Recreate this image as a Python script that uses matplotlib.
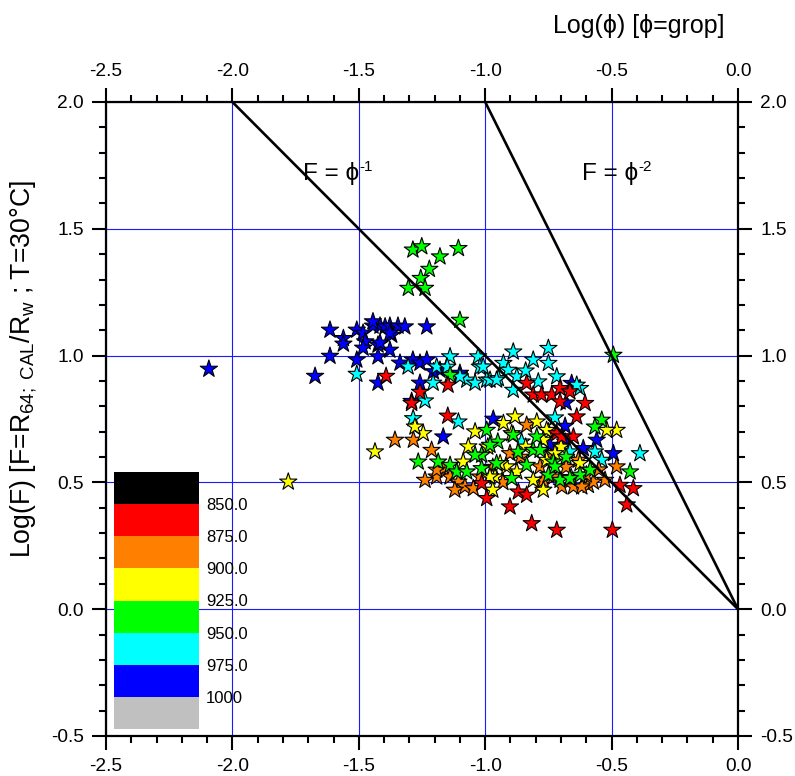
import numpy as np
import matplotlib
matplotlib.use("Agg")
import matplotlib.pyplot as plt
from matplotlib.colors import ListedColormap, BoundaryNorm
from matplotlib.cm import ScalarMappable
from matplotlib.ticker import MultipleLocator, FormatStrFormatter

plt.rcParams['font.family'] = ['Liberation Sans', 'DejaVu Sans']
plt.rcParams['axes.unicode_minus'] = False
plt.rcParams['mathtext.fontset'] = 'custom'
plt.rcParams['mathtext.rm'] = 'Liberation Sans'
plt.rcParams['mathtext.it'] = 'Liberation Sans:italic'

# ---------------- data ----------------
red_x = [-1.392, -1.258, -1.291, -1.147, -1.148, -0.836, -0.810, -0.777, -0.737, -0.704,
         -0.665, -0.605, -0.638, -0.704, -0.651, -1.014, -0.994, -0.902, -0.869, -0.836,
         -0.816, -0.717, -0.497, -0.467, -0.414, -0.440, -0.717, -0.697]
red_y = [0.919, 0.856, 0.812, 0.884, 0.762, 0.891, 0.845, 0.845, 0.845, 0.871,
         0.858, 0.812, 0.759, 0.818, 0.680, 0.496, 0.437, 0.404, 0.463, 0.450,
         0.338, 0.312, 0.312, 0.489, 0.476, 0.412, 0.693, 0.680]

orange_x = [-1.357, -1.284, -1.212, -1.238, -1.166, -1.139, -1.106, -1.080, -1.047, -0.902,
            -0.836, -0.783, -0.783, -0.697, -0.651, -0.592, -0.526, -0.480, -1.192, -0.730,
            -1.192, -0.618, -0.572, -0.632, -0.770, -1.021, -0.970, -0.860, -0.740, -0.680,
            -0.550, -1.120, -0.930, -0.600]
orange_y = [0.667, 0.667, 0.627, 0.509, 0.555, 0.522, 0.502, 0.483, 0.476, 0.614,
            0.726, 0.562, 0.489, 0.483, 0.483, 0.489, 0.509, 0.562, 0.522, 0.522,
            0.549, 0.483, 0.502, 0.588, 0.509, 0.522, 0.560, 0.600, 0.600, 0.560,
            0.550, 0.470, 0.500, 0.530]

yellow_x = [-1.779, -1.436, -1.245, -1.278, -1.067, -1.040, -0.928, -0.882, -0.796, -0.750,
            -0.961, -0.915, -0.875, -0.770, -1.087, -0.895, -0.480, -0.757, -0.757, -0.810,
            -0.625, -0.519, -0.990, -0.840, -0.700, -0.970, -0.660, -0.724, -0.770, -0.941,
            -0.981]
yellow_y = [0.502, 0.621, 0.693, 0.719, 0.641, 0.700, 0.733, 0.759, 0.739, 0.700,
            0.522, 0.562, 0.542, 0.470, 0.581, 0.693, 0.706, 0.706, 0.588, 0.509,
            0.575, 0.706, 0.640, 0.640, 0.640, 0.470, 0.520, 0.614, 0.667, 0.575,
            0.522]

green_x = [-1.286, -1.251, -1.106, -1.179, -1.221, -1.255, -1.304, -1.238, -1.100, -0.493,
           -1.139, -1.265, -1.186, -1.139, -1.113, -1.073, -1.014, -1.014, -0.994, -0.955,
           -0.895, -0.889, -0.836, -0.810, -0.730, -1.040, -0.539, -0.566, -0.427, -0.704,
           -0.625, -0.585, -0.796, -0.665, -0.750, -0.950, -0.870, -0.680, -0.981, -0.783,
           -0.724]
green_y = [1.417, 1.430, 1.423, 1.390, 1.341, 1.305, 1.266, 1.266, 1.140, 1.002,
           0.923, 0.581, 0.581, 0.568, 0.542, 0.542, 0.608, 0.555, 0.706, 0.575,
           0.516, 0.687, 0.568, 0.627, 0.581, 0.608, 0.746, 0.719, 0.542, 0.509,
           0.529, 0.549, 0.680, 0.516, 0.529, 0.660, 0.620, 0.600, 0.647, 0.627,
           0.562]

cyan_x = [-1.508, -1.139, -1.206, -1.238, -1.285, -1.028, -1.021, -1.073, -1.040, -0.994,
          -1.100, -1.192, -1.305, -0.889, -0.750, -0.810, -0.750, -0.928, -0.909, -0.875,
          -0.790, -0.717, -0.625, -0.638, -0.889, -0.981, -0.948, -1.008, -0.724, -1.106,
          -0.856, -0.665, -0.566, -0.539, -0.388, -0.955, -1.150, -0.840]
cyan_y = [0.927, 0.996, 0.892, 0.822, 0.752, 0.996, 0.955, 0.904, 0.892, 0.904,
          0.917, 0.956, 0.956, 1.015, 1.029, 0.983, 0.970, 0.970, 0.943, 0.917,
          0.897, 0.917, 0.871, 0.884, 0.864, 0.904, 0.910, 0.956, 0.755, 0.739,
          0.660, 0.621, 0.621, 0.588, 0.614, 0.904, 0.955, 0.940]

blue_x = [-2.093, -1.673, -1.614, -1.614, -1.561, -1.561, -1.508, -1.508, -1.483, -1.475,
          -1.483, -1.444, -1.416, -1.396, -1.377, -1.345, -1.318, -1.231, -1.370, -1.424,
          -1.377, -1.424, -1.337, -1.424, -1.286, -1.258, -1.231, -1.258, -1.291, -1.179,
          -1.100, -1.444, -1.377, -1.416, -1.205, -0.968, -1.166, -0.744, -0.658, -0.680,
          -0.684, -0.559, -0.612, -0.493, -0.684]
blue_y = [0.947, 0.919, 1.101, 0.998, 1.068, 1.046, 1.101, 0.983, 1.089, 1.055,
          1.030, 1.117, 1.117, 1.114, 1.117, 1.117, 1.114, 1.114, 1.081, 1.042,
          1.022, 0.996, 0.971, 0.892, 0.983, 0.971, 0.983, 0.892, 0.820, 0.943,
          0.931, 1.134, 1.089, 1.050, 0.937, 0.750, 0.680, 0.647, 0.891, 0.814,
          0.722, 0.667, 0.634, 0.614, 0.660]

# temperature value of each colour class
level_values = {'blue': 987.5, 'cyan': 962.5, 'orange': 887.5,
                'yellow': 912.5, 'green': 937.5, 'red': 862.5}

bounds = [825, 850, 875, 900, 925, 950, 975, 1000, 1025]
cbar_colors = ['#000000', '#ff0000', '#ff8000', '#ffff00', '#00ff00',
               '#00ffff', '#0000ff', '#c0c0c0']
cbar_ticks = [850, 875, 900, 925, 950, 975, 1000]
cbar_ticklabels = ['850.0', '875.0', '900.0', '925.0', '950.0', '975.0', '1000']

ticks = [-2.5, -2.0, -1.5, -1.0, -0.5, 0.0]
yticks = [-0.5, 0.0, 0.5, 1.0, 1.5, 2.0]

line1_x = np.array([-2.0, 0.0])   # F = phi^-1
line2_x = np.array([-1.0, 0.0])   # F = phi^-2

# ---------------- figure ----------------
fig = plt.figure(figsize=(7.95, 7.76), dpi=100)
ax = fig.add_axes([106/795, 1-736/776, 632/795, 634/776])

cmap = ListedColormap(cbar_colors)
norm = BoundaryNorm(bounds, cmap.N)

groups = [('blue', blue_x, blue_y), ('cyan', cyan_x, cyan_y),
          ('orange', orange_x, orange_y), ('yellow', yellow_x, yellow_y),
          ('green', green_x, green_y), ('red', red_x, red_y)]
for name, gx, gy in groups:
    vals = np.full(len(gx), level_values[name])
    ax.scatter(gx, gy, c=vals, cmap=cmap, norm=norm, marker='*', s=170,
               edgecolors='black', linewidths=0.8, zorder=3)

ax.plot(line1_x, -line1_x, color='black', lw=1.9, zorder=4)
ax.plot(line2_x, -2*line2_x, color='black', lw=1.9, zorder=4)

ax.set_xlim(-2.5, 0.0)
ax.set_ylim(-0.5, 2.0)
ax.set_xticks(ticks)
ax.set_yticks(yticks)
ax.xaxis.set_minor_locator(MultipleLocator(0.1))
ax.yaxis.set_minor_locator(MultipleLocator(0.1))
ax.xaxis.set_major_formatter(FormatStrFormatter('%.1f'))
ax.yaxis.set_major_formatter(FormatStrFormatter('%.1f'))
ax.tick_params(which='both', direction='out', top=True, right=True,
               labeltop=True, labelright=True, width=1.5, labelsize=13.8,
               pad=6)
ax.tick_params(which='major', length=10)
ax.tick_params(which='minor', length=5)
for sp in ax.spines.values():
    sp.set_linewidth(1.6)
ax.grid(True, which='major', color='#1a1aff', lw=0.8, zorder=1)
ax.set_axisbelow(True)

for xpos, sup in [(-1.721, "-1"), (-0.618, "-2")]:
    t = ax.text(xpos, 1.693, "F = ϕ", fontsize=17.5,
                ha='left', va='baseline', zorder=5)
    ax.annotate(sup, xy=(1.0, 1.0), xycoords=t, xytext=(0.5, 1.5),
                textcoords='offset points', fontsize=11,
                ha='left', va='top', zorder=5)

fig.text(639/795, 1-33/776, "Log(ϕ) [ϕ=grop]", fontsize=18,
         ha='center', va='baseline')
fig.text(24/795, 1-369/776,
         r"Log(F) [F=R$_{\mathregular{64;\ CAL}}$/R$_{\mathregular{w}}$ ; T=30°C]",
         fontsize=19.2, rotation=90, ha='center', va='center')

# colour scale legend
cax = fig.add_axes([114/795, 1-729/776, 85/795, 257/776])
sm = ScalarMappable(norm=norm, cmap=cmap)
cb = fig.colorbar(sm, cax=cax, boundaries=bounds, ticks=cbar_ticks)
cb.set_ticklabels(cbar_ticklabels)
cb.outline.set_visible(False)
cax.minorticks_off()
cax.invert_yaxis()
cax.tick_params(which='both', length=0, labelsize=12, pad=5)

fig.savefig("out.png", dpi=100)
